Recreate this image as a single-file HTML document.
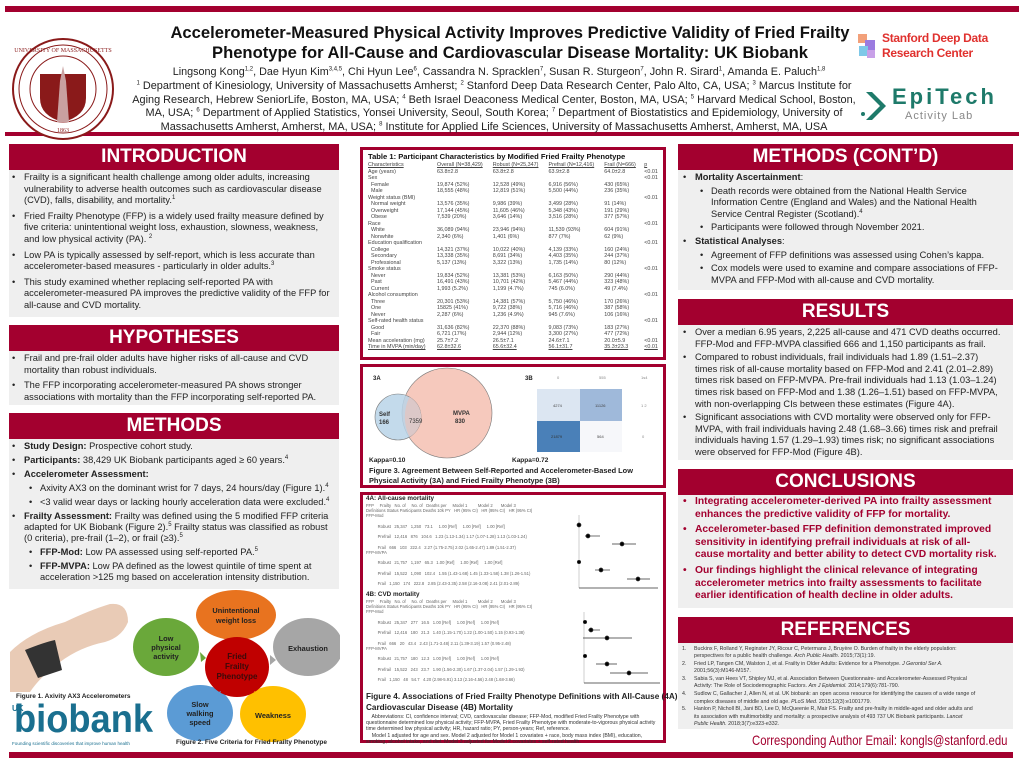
<!DOCTYPE html>
<html><head><meta charset="utf-8"><style>
*{margin:0;padding:0;box-sizing:border-box}
body{width:1024px;height:766px;background:#fff;position:relative;overflow:hidden;font-family:"Liberation Sans",Arial,sans-serif;color:#222}
sup{line-height:0;font-size:6px}
.a{position:absolute}
.bar{position:absolute;background:#a3002f}
.hd{position:absolute;background:#a3002f;color:#fff;font-weight:bold;font-size:19px;text-align:center;line-height:26px}
.bd{position:absolute;background:#efefef}
.t{position:absolute;font-size:9.3px;line-height:11.6px;white-space:nowrap;color:#222}
.b{position:relative;padding-left:15px;margin-bottom:4px}
.b:before{content:"•";position:absolute;left:3px;top:0}
.s{padding-left:31px}
.s:before{left:20px}
.cc{color:#a3002f;font-weight:bold;font-size:10.3px;line-height:12.6px}
.tb{font-size:5.4px;line-height:6.5px;color:#444}
.tb td{padding:0 2px;white-space:nowrap}
.box{position:absolute;border:3px solid #a3002f;background:#fff}
.f4{font-size:4.2px;color:#666;line-height:5.2px;white-space:nowrap}
</style></head><body>

<!-- header -->
<div class="bar" style="left:5px;top:6px;width:1014px;height:6px"></div>
<div class="bar" style="left:5px;top:132px;width:1014px;height:4px"></div>
<svg class="a" style="left:10px;top:36px" width="106" height="106" viewBox="0 0 106 106">
<circle cx="53" cy="53" r="50" fill="#fff" stroke="#8a1a1a" stroke-width="2"/>
<circle cx="53" cy="53" r="44" fill="none" stroke="#8a1a1a" stroke-width="1"/>
<circle cx="53" cy="53" r="33" fill="none" stroke="#8a1a1a" stroke-width="1"/>
<path d="M30 38 H76 V62 Q76 80 53 86 Q30 80 30 62 Z" fill="#8a1a1a"/>
<path d="M53 30 L50 45 L47 86 H59 L56 45 Z" fill="#c9a0a0"/>
<text x="53" y="16" font-size="6" text-anchor="middle" fill="#8a1a1a" font-family="Liberation Serif">UNIVERSITY OF MASSACHUSETTS</text>
<text x="53" y="96" font-size="6" text-anchor="middle" fill="#8a1a1a" font-family="Liberation Serif">1863</text>
</svg>
<div class="a" style="left:115px;top:23px;width:790px;text-align:center;font-weight:bold;font-size:16.6px;line-height:19.5px;color:#111">Accelerometer-Measured Physical Activity Improves Predictive Validity of Fried Frailty<br>Phenotype for All-Cause and Cardiovascular Disease Mortality: UK Biobank</div>
<div class="a" style="left:104px;top:66px;width:790px;text-align:center;font-size:10.8px;color:#222">Lingsong Kong<sup>1,2</sup>, Dae Hyun Kim<sup>3,4,5</sup>, Chi Hyun Lee<sup>6</sup>, Cassandra N. Spracklen<sup>7</sup>, Susan R. Sturgeon<sup>7</sup>, John R. Sirard<sup>1</sup>, Amanda E. Paluch<sup>1,8</sup></div>
<div class="a" style="left:99px;top:80px;width:790px;text-align:center;font-size:10.9px;line-height:13.6px;color:#222"><sup>1</sup> Department of Kinesiology, University of Massachusetts Amherst; <sup>2</sup> Stanford Deep Data Research Center, Palo Alto, CA, USA; <sup>3</sup> Marcus Institute for<br>Aging Research, Hebrew SeniorLife, Boston, MA, USA; <sup>4</sup> Beth Israel Deaconess Medical Center, Boston, MA, USA; <sup>5</sup> Harvard Medical School, Boston,<br>MA, USA; <sup>6</sup> Department of Applied Statistics, Yonsei University, Seoul, South Korea; <sup>7</sup> Department of Biostatistics and Epidemiology, University of<br>Massachusetts Amherst, Amherst, MA, USA; <sup>8</sup> Institute for Applied Life Sciences, University of Massachusetts Amherst, Amherst, MA, USA</div>
<svg class="a" style="left:855px;top:30px" width="24" height="30"><rect x="3" y="4" width="9" height="9" fill="#f2a07a"/><rect x="10" y="10" width="10" height="10" fill="#9b7be0"/><rect x="4" y="16" width="9" height="10" fill="#7ec8e8"/><rect x="12" y="20" width="8" height="8" fill="#c8a0e8"/></svg>
<div class="a" style="left:882px;top:31px;font-size:12px;line-height:14.5px;color:#e0312e;font-weight:bold;letter-spacing:-0.3px">Stanford Deep Data<br>Research Center</div>
<svg class="a" style="left:860px;top:88px" width="30" height="38"><path d="M6 4 L20 18 L6 32 L12 32 L26 18 L12 4 Z" fill="#1e7a6a"/><circle cx="3" cy="26" r="2" fill="#1e7a6a"/></svg>
<div class="a" style="left:892px;top:84px;font-size:22px;color:#1e7a6a;font-weight:bold;letter-spacing:3px">EpiTech</div>
<div class="a" style="left:905px;top:110px;font-size:11px;color:#888;letter-spacing:1px">Activity Lab</div>

<!-- LEFT COLUMN -->
<div class="hd" style="left:9px;top:144px;width:330px">INTRODUCTION</div>
<div class="bd" style="left:9px;top:170px;width:330px;height:147px"></div>
<div class="t" style="left:9px;top:172px">
<div class="b">Frailty is a significant health challenge among older adults, increasing<br>vulnerability to adverse health outcomes such as cardiovascular disease<br>(CVD), falls, disability, and mortality.<sup>1</sup></div>
<div class="b">Fried Frailty Phenotype (FFP) is a widely used frailty measure defined by<br>five criteria: unintentional weight loss, exhaustion, slowness, weakness,<br>and low physical activity (PA). <sup>2</sup></div>
<div class="b">Low PA is typically assessed by self-report, which is less accurate than<br>accelerometer-based measures - particularly in older adults.<sup>3</sup></div>
<div class="b">This study examined whether replacing self-reported PA with<br>accelerometer-measured PA improves the predictive validity of the FFP for<br>all-cause and CVD mortality.</div>
</div>
<div class="hd" style="left:9px;top:325px;width:330px">HYPOTHESES</div>
<div class="bd" style="left:9px;top:351px;width:330px;height:54px"></div>
<div class="t" style="left:9px;top:353px">
<div class="b">Frail and pre-frail older adults have higher risks of all-cause and CVD<br>mortality than robust individuals.</div>
<div class="b">The FFP incorporating accelerometer-measured PA shows stronger<br>associations with mortality than the FFP incorporating self-reported PA.</div>
</div>
<div class="hd" style="left:9px;top:413px;width:330px">METHODS</div>
<div class="bd" style="left:9px;top:439px;width:330px;height:150px"></div>
<div class="t" style="left:9px;top:441px;line-height:11px">
<div class="b" style="margin-bottom:3px"><b>Study Design:</b> Prospective cohort study.</div>
<div class="b" style="margin-bottom:3px"><b>Participants:</b> 38,429 UK Biobank participants aged ≥ 60 years.<sup>4</sup></div>
<div class="b" style="margin-bottom:3px"><b>Accelerometer Assessment:</b></div>
<div class="b s" style="margin-bottom:3px">Axivity AX3 on the dominant wrist for 7 days, 24 hours/day (Figure 1).<sup>4</sup></div>
<div class="b s" style="margin-bottom:3px">&lt;3 valid wear days or lacking hourly acceleration data were excluded.<sup>4</sup></div>
<div class="b" style="margin-bottom:3px"><b>Frailty Assessment:</b> Frailty was defined using the 5 modified FFP criteria<br>adapted for UK Biobank (Figure 2).<sup>5</sup> Frailty status was classified as robust<br>(0 criteria), pre-frail (1–2), or frail (≥3).<sup>5</sup></div>
<div class="b s" style="margin-bottom:3px"><b>FFP-Mod:</b> Low PA assessed using self-reported PA.<sup>5</sup></div>
<div class="b s"><b>FFP-MVPA:</b> Low PA defined as the lowest quintile of time spent at<br>acceleration &gt;125 mg based on acceleration intensity distribution.</div>
</div>

<!-- wrist -->
<svg class="a" style="left:10px;top:592px" width="120" height="100">
<path d="M0 100 L0 60 Q20 40 55 30 Q80 18 100 12 Q118 10 118 30 Q112 45 95 50 Q70 55 50 70 Q30 85 20 100 Z" fill="#e9cbb6"/>
<path d="M15 58 Q35 50 45 48 L52 78 Q40 82 28 86 Z" fill="#333"/>
</svg>
<div class="a" style="left:16px;top:693px;font-size:6.5px;font-weight:bold;color:#222">Figure 1. Axivity AX3 Accelerometers</div>
<div class="a" style="left:12px;top:704px;font-size:8px;font-weight:bold;color:#1a6f8f">UK</div>
<div class="a" style="left:14px;top:700px;font-size:39px;font-weight:bold;color:#1a6f8f;line-height:40px;transform:scaleX(0.93);transform-origin:left">biobank</div>
<div class="a" style="left:12px;top:741px;font-size:4.6px;color:#1a6f8f">Founding scientific discoveries that improve human health</div>
<!-- figure 2 -->
<svg class="a" style="left:130px;top:585px" width="210" height="160" font-family="Liberation Sans" font-weight="bold" font-size="7.4" text-anchor="middle">
<ellipse cx="106" cy="30" rx="40" ry="25" fill="#e8731f"/>
<text x="106" y="28" fill="#222">Unintentional</text><text x="106" y="38" fill="#222">weight loss</text>
<ellipse cx="36" cy="62" rx="33" ry="29" fill="#6aa83a"/>
<text x="36" y="56" fill="#222">Low</text><text x="36" y="65" fill="#222">physical</text><text x="36" y="74" fill="#222">activity</text>
<ellipse cx="178" cy="62" rx="35" ry="29" fill="#a6a6a6"/>
<text x="178" y="66" fill="#222">Exhaustion</text>
<ellipse cx="70" cy="128" rx="33" ry="28" fill="#5b9bd5"/>
<text x="70" y="122" fill="#222">Slow</text><text x="70" y="131" fill="#222">walking</text><text x="70" y="140" fill="#222">speed</text>
<ellipse cx="143" cy="129" rx="33" ry="28" fill="#ffc000"/>
<text x="143" y="133" fill="#222">Weakness</text>
<ellipse cx="107" cy="82" rx="32" ry="30" fill="#c00000"/>
<text x="107" y="74" fill="#3a0a0a" font-size="8">Fried</text><text x="107" y="84" fill="#3a0a0a" font-size="8">Frailty</text><text x="107" y="94" fill="#3a0a0a" font-size="8">Phenotype</text>
<path d="M101 52 L106 47 L111 52 Z" fill="#e8731f"/><path d="M71 77 L70 67 L76 73 Z" fill="#6aa83a"/><path d="M140 70 L146 75 L140 80 Z" fill="#a6a6a6"/><path d="M82 110 L91 106 L88 114 Z" fill="#5b9bd5"/><path d="M124 106 L134 110 L128 114 Z" fill="#ffc000"/>
</svg>
<div class="a" style="left:176px;top:739px;font-size:6.5px;font-weight:bold;color:#222">Figure 2. Five Criteria for Fried Frailty Phenotype</div>
<div class="bar" style="left:9px;top:752px;width:1004px;height:6px"></div>

<!-- MIDDLE -->
<div class="box" style="left:360px;top:147px;width:306px;height:213px"></div>
<div class="a" style="left:368px;top:152px;font-size:7.6px;font-weight:bold;color:#111">Table 1: Participant Characteristics by Modified Fried Frailty Phenotype</div>
<table class="a tb" style="left:366px;top:162px;border-collapse:collapse;width:296px">
<tr style="text-decoration:underline"><td>Characteristics</td><td>Overall (N=38,429)</td><td>Robust (N=25,347)</td><td>Prefrail (N=12,416)</td><td>Frail (N=666)</td><td>p</td></tr>
<tr><td>Age (years)</td><td>63.8±2.8</td><td>63.8±2.8</td><td>63.9±2.8</td><td>64.0±2.8</td><td>&lt;0.01</td></tr>
<tr><td>Sex</td><td></td><td></td><td></td><td></td><td>&lt;0.01</td></tr>
<tr><td>&nbsp; Female</td><td>19,874 (52%)</td><td>12,528 (49%)</td><td>6,916 (56%)</td><td>430 (65%)</td><td></td></tr>
<tr><td>&nbsp; Male</td><td>18,555 (48%)</td><td>12,819 (51%)</td><td>5,500 (44%)</td><td>236 (35%)</td><td></td></tr>
<tr><td>Weight status (BMI)</td><td></td><td></td><td></td><td></td><td>&lt;0.01</td></tr>
<tr><td>&nbsp; Normal weight</td><td>13,576 (35%)</td><td>9,986 (39%)</td><td>3,499 (28%)</td><td>91 (14%)</td><td></td></tr>
<tr><td>&nbsp; Overweight</td><td>17,144 (45%)</td><td>11,605 (46%)</td><td>5,348 (43%)</td><td>191 (29%)</td><td></td></tr>
<tr><td>&nbsp; Obese</td><td>7,539 (20%)</td><td>3,646 (14%)</td><td>3,516 (28%)</td><td>377 (57%)</td><td></td></tr>
<tr><td>Race</td><td></td><td></td><td></td><td></td><td>&lt;0.01</td></tr>
<tr><td>&nbsp; White</td><td>36,089 (94%)</td><td>23,946 (94%)</td><td>11,539 (93%)</td><td>604 (91%)</td><td></td></tr>
<tr><td>&nbsp; Nonwhite</td><td>2,340 (6%)</td><td>1,401 (6%)</td><td>877 (7%)</td><td>62 (9%)</td><td></td></tr>
<tr><td>Education qualification</td><td></td><td></td><td></td><td></td><td>&lt;0.01</td></tr>
<tr><td>&nbsp; College</td><td>14,321 (37%)</td><td>10,022 (40%)</td><td>4,139 (33%)</td><td>160 (24%)</td><td></td></tr>
<tr><td>&nbsp; Secondary</td><td>13,338 (35%)</td><td>8,691 (34%)</td><td>4,403 (35%)</td><td>244 (37%)</td><td></td></tr>
<tr><td>&nbsp; Professional</td><td>5,137 (13%)</td><td>3,322 (13%)</td><td>1,735 (14%)</td><td>80 (12%)</td><td></td></tr>
<tr><td>Smoke status</td><td></td><td></td><td></td><td></td><td>&lt;0.01</td></tr>
<tr><td>&nbsp; Never</td><td>19,834 (52%)</td><td>13,381 (53%)</td><td>6,163 (50%)</td><td>290 (44%)</td><td></td></tr>
<tr><td>&nbsp; Past</td><td>16,491 (43%)</td><td>10,701 (42%)</td><td>5,467 (44%)</td><td>323 (48%)</td><td></td></tr>
<tr><td>&nbsp; Current</td><td>1,993 (5.2%)</td><td>1,199 (4.7%)</td><td>745 (6.0%)</td><td>49 (7.4%)</td><td></td></tr>
<tr><td>Alcohol consumption</td><td></td><td></td><td></td><td></td><td>&lt;0.01</td></tr>
<tr><td>&nbsp; Three</td><td>20,301 (53%)</td><td>14,381 (57%)</td><td>5,750 (46%)</td><td>170 (26%)</td><td></td></tr>
<tr><td>&nbsp; One</td><td>15825 (41%)</td><td>9,722 (38%)</td><td>5,716 (46%)</td><td>387 (58%)</td><td></td></tr>
<tr><td>&nbsp; Never</td><td>2,287 (6%)</td><td>1,236 (4.9%)</td><td>945 (7.6%)</td><td>106 (16%)</td><td></td></tr>
<tr><td>Self-rated health status</td><td></td><td></td><td></td><td></td><td>&lt;0.01</td></tr>
<tr><td>&nbsp; Good</td><td>31,636 (82%)</td><td>22,370 (88%)</td><td>9,083 (73%)</td><td>183 (27%)</td><td></td></tr>
<tr><td>&nbsp; Fair</td><td>6,721 (17%)</td><td>2,944 (12%)</td><td>3,300 (27%)</td><td>477 (72%)</td><td></td></tr>
<tr><td>Mean acceleration (mg)</td><td>25.7±7.2</td><td>26.5±7.1</td><td>24.6±7.1</td><td>20.0±5.9</td><td>&lt;0.01</td></tr>
<tr style="text-decoration:underline"><td>Time in MVPA (min/day)</td><td>62.8±32.6</td><td>65.6±32.4</td><td>56.1±31.7</td><td>35.3±23.3</td><td>&lt;0.01</td></tr>
</table>

<div class="box" style="left:360px;top:364px;width:306px;height:124px"></div>
<svg class="a" style="left:363px;top:367px" width="300" height="95" font-family="Liberation Sans" font-size="6" font-weight="bold">
<text x="10" y="13" fill="#222">3A</text>
<circle cx="84" cy="46" r="45" fill="#f6c9bd" stroke="#777" stroke-width="0.6"/>
<circle cx="35" cy="50" r="23" fill="#b9d3e8" fill-opacity="0.85" stroke="#777" stroke-width="0.6"/>
<path d="M46.5 30 A23 23 0 0 1 46.5 70 A45 45 0 0 1 46.5 30Z" fill="#dcc8c8"/>
<text x="16" y="49" fill="#333">Self</text><text x="16" y="57" fill="#333">166</text>
<text x="46" y="56" fill="#333" font-weight="normal">7359</text>
<text x="90" y="48" fill="#333">MVPA</text><text x="92" y="56" fill="#333">830</text>
<text x="162" y="13" fill="#222">3B</text>
<rect x="174" y="22" width="43" height="32" fill="#dce6f2"/><rect x="217" y="22" width="42" height="32" fill="#9fb9da"/>
<rect x="174" y="54" width="43" height="31" fill="#4a80b8"/><rect x="217" y="54" width="42" height="31" fill="#f6f7fa"/>
<text x="190" y="40" fill="#444" font-size="4" font-weight="normal">4274</text><text x="232" y="40" fill="#444" font-size="4" font-weight="normal">11126</text>
<text x="188" y="71" fill="#333" font-size="4" font-weight="normal">21879</text><text x="234" y="71" fill="#444" font-size="4" font-weight="normal">564</text>
<text x="194" y="12" fill="#888" font-size="4" font-weight="normal">0</text><text x="236" y="12" fill="#888" font-size="4" font-weight="normal">555</text><text x="278" y="12" fill="#888" font-size="4" font-weight="normal">1s4</text>
<text x="278" y="40" fill="#888" font-size="4" font-weight="normal">1 2</text><text x="279" y="71" fill="#888" font-size="4" font-weight="normal">0</text>
</svg>
<div class="a" style="left:369px;top:457px;font-size:6.5px;font-weight:bold;color:#222">Kappa=0.10</div>
<div class="a" style="left:512px;top:457px;font-size:6.5px;font-weight:bold;color:#222">Kappa=0.72</div>
<div class="a" style="left:369px;top:466px;font-size:7.4px;line-height:10px;font-weight:bold;color:#222">Figure 3. Agreement Between Self-Reported and Accelerometer-Based Low<br>Physical Activity (3A) and Fried Frailty Phenotype (3B)</div>

<div class="box" style="left:360px;top:492px;width:306px;height:251px"></div>
<div class="a" style="left:366px;top:495px;font-size:6.3px;font-weight:bold;color:#222">4A: All-cause mortality</div>
<div class="a f4" style="left:366px;top:503px">
FFP &nbsp; &nbsp; Frailty &nbsp; No. of &nbsp; &nbsp; No. of &nbsp; Deaths per &nbsp; &nbsp; Model 1 &nbsp; &nbsp; &nbsp; &nbsp; Model 2 &nbsp; &nbsp; &nbsp; Model 3<br>
Definitions Status Participants Deaths 10k PY &nbsp; HR (95% CI) &nbsp; HR (95% CI) &nbsp; HR (95% CI)<br>FFP-Mod<br><br>
&nbsp; &nbsp; &nbsp; &nbsp; &nbsp; Robust &nbsp; 25,347 &nbsp; 1,250 &nbsp; 73.1 &nbsp; &nbsp; 1.00 [Ref] &nbsp; &nbsp; 1.00 [Ref] &nbsp; &nbsp; 1.00 [Ref]<br><br>
&nbsp; &nbsp; &nbsp; &nbsp; &nbsp; Prefrail &nbsp; 12,416 &nbsp; 876 &nbsp; 104.6 &nbsp; 1.23 (1.13-1.34) 1.17 (1.07-1.28) 1.13 (1.03-1.24)<br><br>
&nbsp; &nbsp; &nbsp; &nbsp; &nbsp; Frail &nbsp; 666 &nbsp; 103 &nbsp; 222.4 &nbsp; 2.27 (1.75-2.75) 2.02 (1.65-2.47) 1.89 (1.51-2.37)<br>FFP-MVPA<br><br>
&nbsp; &nbsp; &nbsp; &nbsp; &nbsp; Robust &nbsp; 21,757 &nbsp; 1,197 &nbsp; 65.3 &nbsp; 1.00 [Ref] &nbsp; &nbsp; 1.00 [Ref] &nbsp; &nbsp; 1.00 [Ref]<br><br>
&nbsp; &nbsp; &nbsp; &nbsp; &nbsp; Prefrail &nbsp; 15,522 &nbsp; 1,090 &nbsp; 102.4 &nbsp; 1.55 (1.43-1.68) 1.45 (1.33-1.58) 1.38 (1.26-1.51)<br><br>
&nbsp; &nbsp; &nbsp; &nbsp; &nbsp; Frail &nbsp; 1,150 &nbsp; 174 &nbsp; 222.8 &nbsp; 2.85 (2.43-3.35) 2.58 (2.16-3.08) 2.41 (2.01-2.89)
</div>
<div class="a" style="left:366px;top:591px;font-size:6.3px;font-weight:bold;color:#222">4B: CVD mortality</div>
<div class="a f4" style="left:366px;top:599px">
FFP &nbsp; &nbsp; Frailty &nbsp; No. of &nbsp; &nbsp; No. of &nbsp; Deaths per &nbsp; &nbsp; Model 1 &nbsp; &nbsp; &nbsp; &nbsp; Model 2 &nbsp; &nbsp; &nbsp; Model 3<br>
Definitions Status Participants Deaths 10k PY &nbsp; HR (95% CI) &nbsp; HR (95% CI) &nbsp; HR (95% CI)<br>FFP-Mod<br><br>
&nbsp; &nbsp; &nbsp; &nbsp; &nbsp; Robust &nbsp; 25,347 &nbsp; 277 &nbsp; 16.5 &nbsp; 1.00 [Ref] &nbsp; &nbsp; 1.00 [Ref] &nbsp; &nbsp; 1.00 [Ref]<br><br>
&nbsp; &nbsp; &nbsp; &nbsp; &nbsp; Prefrail &nbsp; 12,416 &nbsp; 180 &nbsp; 21.3 &nbsp; 1.40 (1.15-1.70) 1.22 (1.00-1.50) 1.15 (0.93-1.38)<br><br>
&nbsp; &nbsp; &nbsp; &nbsp; &nbsp; Frail &nbsp; 666 &nbsp; 20 &nbsp; 43.4 &nbsp; 2.43 (1.71-3.48) 2.11 (1.39-3.19) 1.57 (0.95-2.48)<br>FFP-MVPA<br><br>
&nbsp; &nbsp; &nbsp; &nbsp; &nbsp; Robust &nbsp; 21,757 &nbsp; 180 &nbsp; 12.3 &nbsp; 1.00 [Ref] &nbsp; &nbsp; 1.00 [Ref] &nbsp; &nbsp; 1.00 [Ref]<br><br>
&nbsp; &nbsp; &nbsp; &nbsp; &nbsp; Prefrail &nbsp; 15,522 &nbsp; 243 &nbsp; 23.7 &nbsp; 1.90 (1.56-2.30) 1.67 (1.37-2.04) 1.57 (1.29-1.93)<br><br>
&nbsp; &nbsp; &nbsp; &nbsp; &nbsp; Frail &nbsp; 1,150 &nbsp; 48 &nbsp; 54.7 &nbsp; 4.20 (2.98-5.91) 3.13 (2.16-4.56) 2.48 (1.68-3.66)
</div>
<svg class="a" style="left:0;top:0" width="1024" height="766">
<g stroke="#333" stroke-width="0.7" fill="#000">
<line x1="579" y1="515" x2="579" y2="588" stroke="#bbb"/><line x1="579" y1="588" x2="658" y2="588"/>
<circle cx="579" cy="525" r="2"/>
<line x1="585" y1="536" x2="600" y2="536"/><circle cx="588" cy="536" r="2"/>
<line x1="612" y1="544" x2="636" y2="544"/><circle cx="622" cy="544" r="2"/>
<circle cx="579" cy="562" r="1.7"/>
<line x1="595" y1="570" x2="610" y2="570"/><circle cx="601" cy="570" r="2"/>
<line x1="627" y1="579" x2="650" y2="579"/><circle cx="638" cy="579" r="2"/>
<line x1="584" y1="612" x2="584" y2="683" stroke="#bbb"/><line x1="584" y1="683" x2="660" y2="683"/>
<circle cx="585" cy="622" r="1.7"/>
<line x1="588" y1="630" x2="600" y2="630"/><circle cx="591" cy="630" r="2"/>
<line x1="583" y1="638" x2="632" y2="638"/><circle cx="607" cy="638" r="2"/>
<circle cx="585" cy="656" r="1.7"/>
<line x1="596" y1="664" x2="617" y2="664"/><circle cx="607" cy="664" r="2"/>
<line x1="610" y1="673" x2="648" y2="673"/><circle cx="629" cy="673" r="2"/>
</g></svg>
<div class="a" style="left:366px;top:691px;font-size:8.2px;line-height:11px;font-weight:bold;color:#222">Figure 4. Associations of Fried Frailty Phenotype Definitions with All-Cause (4A) and<br>Cardiovascular Disease (4B) Mortality</div>
<div class="a" style="left:366px;top:714px;font-size:5.2px;line-height:6.2px;color:#333;width:296px">&nbsp; &nbsp; Abbreviations: CI, confidence interval; CVD, cardiovascular disease; FFP-Mod, modified Fried Frailty Phenotype with questionnaire determined low physical activity; FFP-MVPA, Fried Frailty Phenotype with moderate-to-vigorous physical activity time determined low physical activity; HR, hazard ratio; PY, person-years; Ref, reference.<br>&nbsp; &nbsp; Model 1 adjusted for age and sex. Model 2 adjusted for Model 1 covariates + race, body mass index (BMI), education, smoking, alcohol intake, and diet. Model 3 adjusted for Model 2 covariates + self-rated health.</div>

<!-- RIGHT -->
<div class="hd" style="left:678px;top:144px;width:335px">METHODS (CONT’D)</div>
<div class="bd" style="left:678px;top:170px;width:335px;height:120px"></div>
<div class="t" style="left:680px;top:172px">
<div class="b" style="margin-bottom:2px"><b>Mortality Ascertainment</b>:</div>
<div class="b s" style="margin-bottom:2px">Death records were obtained from the National Health Service<br>Information Centre (England and Wales) and the National Health<br>Service Central Register (Scotland).<sup>4</sup></div>
<div class="b s" style="margin-bottom:2px">Participants were followed through November 2021.</div>
<div class="b" style="margin-bottom:2px"><b>Statistical Analyses</b>:</div>
<div class="b s" style="margin-bottom:2px">Agreement of FFP definitions was assessed using Cohen’s kappa.</div>
<div class="b s">Cox models were used to examine and compare associations of FFP-<br>MVPA and FFP-Mod with all-cause and CVD mortality.</div>
</div>
<div class="hd" style="left:678px;top:299px;width:335px">RESULTS</div>
<div class="bd" style="left:678px;top:325px;width:335px;height:135px"></div>
<div class="t" style="left:680px;top:327px">
<div class="b" style="margin-bottom:2px">Over a median 6.95 years, 2,225 all-cause and 471 CVD deaths occurred.<br>FFP-Mod and FFP-MVPA classified 666 and 1,150 participants as frail.</div>
<div class="b" style="margin-bottom:2px">Compared to robust individuals, frail individuals had 1.89 (1.51–2.37)<br>times risk of all-cause mortality based on FFP-Mod and 2.41 (2.01–2.89)<br>times risk based on FFP-MVPA. Pre-frail individuals had 1.13 (1.03–1.24)<br>times risk based on FFP-Mod and 1.38 (1.26–1.51) based on FFP-MVPA,<br>with non-overlapping CIs between these estimates (Figure 4A).</div>
<div class="b">Significant associations with CVD mortality were observed only for FFP-<br>MVPA, with frail individuals having 2.48 (1.68–3.66) times risk and prefrail<br>individuals having 1.57 (1.29–1.93) times risk; no significant associations<br>were observed for FFP-Mod (Figure 4B).</div>
</div>
<div class="hd" style="left:678px;top:469px;width:335px">CONCLUSIONS</div>
<div class="bd" style="left:678px;top:495px;width:335px;height:113px"></div>
<div class="t cc" style="left:680px;top:496px">
<div class="b" style="margin-bottom:3px">Integrating accelerometer-derived PA into frailty assessment<br>enhances the predictive validity of FFP for mortality.</div>
<div class="b" style="margin-bottom:3px">Accelerometer-based FFP definition demonstrated improved<br>sensitivity in identifying prefrail individuals at risk of all-<br>cause mortality and better ability to detect CVD mortality risk.</div>
<div class="b">Our findings highlight the clinical relevance of integrating<br>accelerometer metrics into frailty assessments to facilitate<br>earlier identification of health decline in older adults.</div>
</div>
<div class="hd" style="left:678px;top:617px;width:335px">REFERENCES</div>
<div class="bd" style="left:678px;top:643px;width:335px;height:86px"></div>
<div class="a" style="left:682px;top:646px;font-size:5.3px;line-height:7.3px;color:#333;white-space:nowrap">
<div style="padding-left:12px;position:relative;margin-bottom:0.5px"><span style="position:absolute;left:0">1.</span>Buckinx F, Rolland Y, Reginster JY, Ricour C, Petermans J, Bruyère O. Burden of frailty in the elderly population:<br>perspectives for a public health challenge. <i>Arch Public Health.</i> 2015;73(1):19.</div>
<div style="padding-left:12px;position:relative;margin-bottom:0.5px"><span style="position:absolute;left:0">2.</span>Fried LP, Tangen CM, Walston J, et al. Frailty in Older Adults: Evidence for a Phenotype. <i>J Gerontol Ser A.</i><br>2001;56(3):M146-M157.</div>
<div style="padding-left:12px;position:relative;margin-bottom:0.5px"><span style="position:absolute;left:0">3.</span>Sabia S, van Hees VT, Shipley MJ, et al. Association Between Questionnaire- and Accelerometer-Assessed Physical<br>Activity: The Role of Sociodemographic Factors. <i>Am J Epidemiol.</i> 2014;179(6):781-790.</div>
<div style="padding-left:12px;position:relative;margin-bottom:0.5px"><span style="position:absolute;left:0">4.</span>Sudlow C, Gallacher J, Allen N, et al. UK biobank: an open access resource for identifying the causes of a wide range of<br>complex diseases of middle and old age. <i>PLoS Med.</i> 2015;12(3):e1001779.</div>
<div style="padding-left:12px;position:relative"><span style="position:absolute;left:0">5.</span>Hanlon P, Nicholl BI, Jani BD, Lee D, McQueenie R, Mair FS. Frailty and pre-frailty in middle-aged and older adults and<br>its association with multimorbidity and mortality: a prospective analysis of 493 737 UK Biobank participants. <i>Lancet</i><br><i>Public Health.</i> 2018;3(7):e323-e332.</div>
</div>
<div class="a" style="left:752px;top:732px;font-size:14px;color:#a3002f;white-space:nowrap;transform:scaleX(0.81);transform-origin:left">Corresponding Author Email: kongls@stanford.edu</div>
</body></html>
